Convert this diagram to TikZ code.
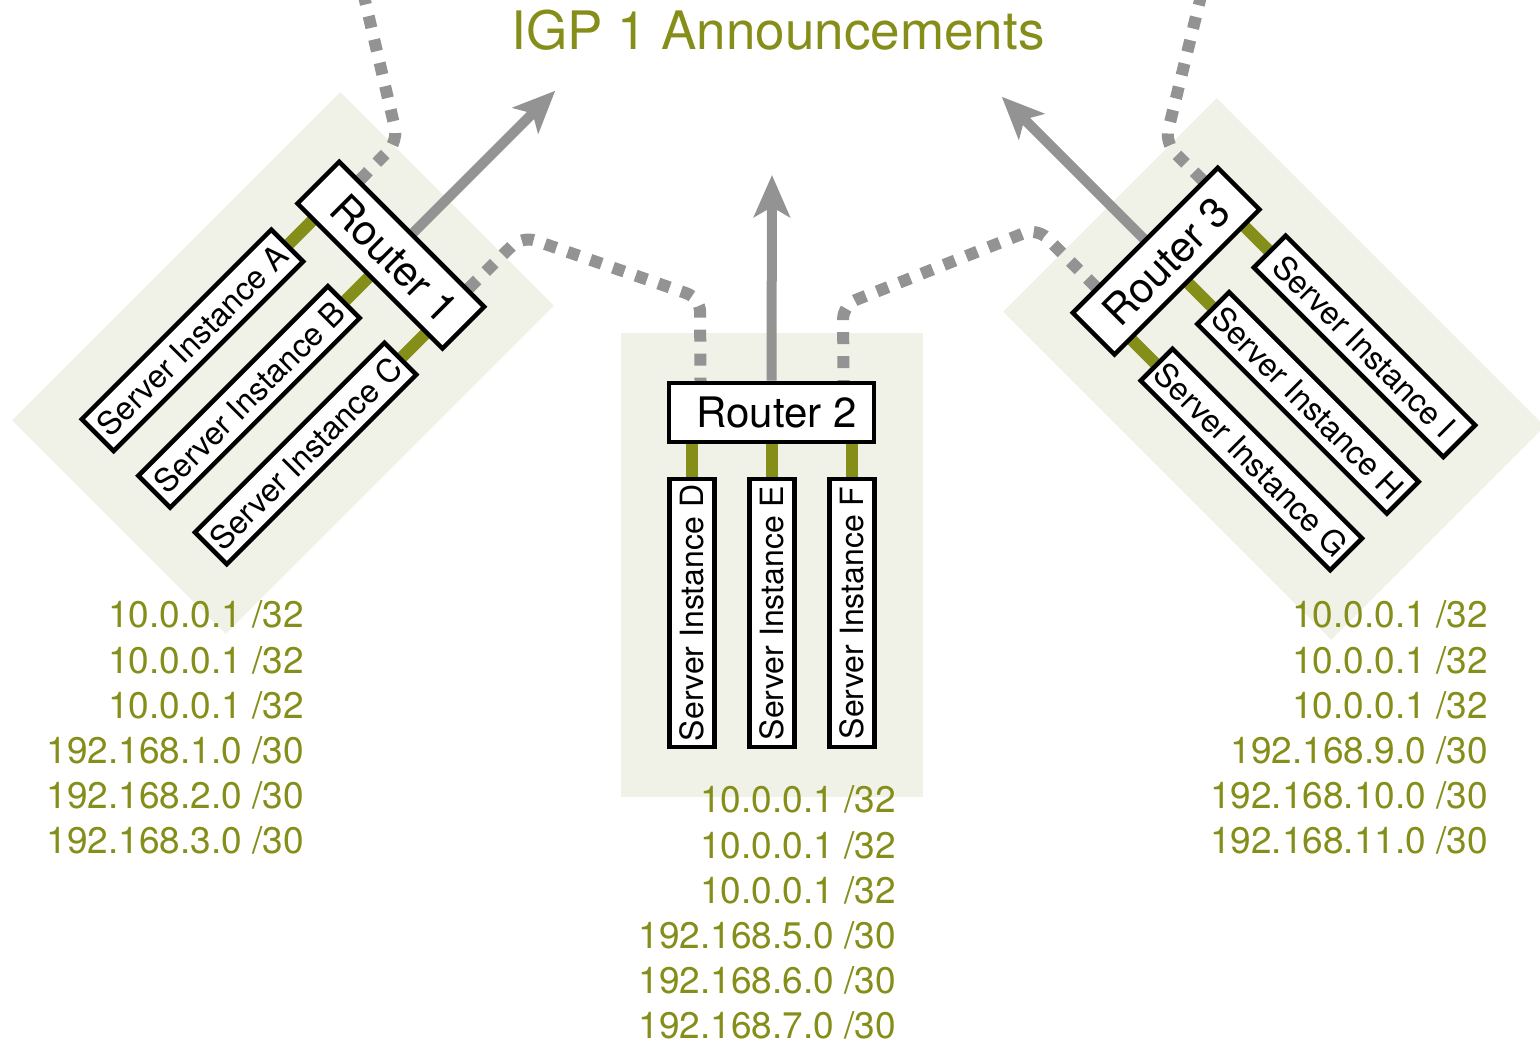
\documentclass[tikz,border=0pt]{standalone}
\usepackage{fontspec}
\setmainfont{TeX Gyre Heros}
\usetikzlibrary{arrows.meta}
\definecolor{olivec}{HTML}{868E1A}
\definecolor{bgc}{HTML}{F0F2E8}
\definecolor{grayc}{HTML}{939393}
\pgfdeclarelayer{back}
\pgfdeclarelayer{mid}
\pgfsetlayers{back,mid,main}
\begin{document}
\begin{tikzpicture}[x=1pt,y=1pt,
  grp/.style={fill=bgc},
  routerbox/.style={draw=black, fill=white, line width=4.5pt, minimum width=205pt, minimum height=59pt, inner sep=0pt, font=\fontsize{42}{50}\selectfont, transform shape},
  serverbox/.style={draw=black, fill=white, line width=4.5pt, minimum width=268pt, minimum height=45pt, inner sep=0pt, font=\fontsize{32}{38}\selectfont, transform shape},
  link/.style={draw=olivec, line width=12pt},
  annarrow/.style={draw=grayc, line width=10pt, -{Stealth[length=42pt,width=36pt,inset=10pt]}},
  peer/.style={draw=grayc, line width=12pt, dash pattern=on 12pt off 12pt, rounded corners=14pt},
  addr/.style={text=olivec, font=\fontsize{37}{45}\selectfont, anchor=base east, inner sep=0pt},
]
\useasboundingbox (0,0) rectangle (1540,1043);

% ---------- Group 2 (centre)
\begin{scope}[shift={(772,478)}]
  \begin{pgfonlayer}{back}\fill[grp] (-151,-232) rectangle (151,232);\end{pgfonlayer}
  \node[routerbox] (r2) at (-0.5,152.5) {\hspace{10pt}Router 2};
  \node[serverbox, rotate=90] (sD) at (-80,-48) {Server Instance D};
  \node[serverbox, rotate=90] (sE) at (0,-48) {Server Instance E};
  \node[serverbox, rotate=90] (sF) at (80,-48) {Server Instance F};
  \coordinate (r2a) at (-80,124);
  \coordinate (r2b) at (0,124);
  \coordinate (r2c) at (80,124);
  \coordinate (r2top) at (0,390);
  \coordinate (r2pl) at (-71.5,184);
  \coordinate (r2pr) at (71.5,184);
\end{scope}

% ---------- Group 1 (left)
\begin{scope}[shift={(283,680)}, rotate=-45]
  \begin{pgfonlayer}{back}\fill[grp] (-151,-232) rectangle (151,232);\end{pgfonlayer}
  \node[routerbox] (r1) at (0,152.5) {\hspace{10pt}Router 1};
  \node[serverbox, rotate=90] (sA) at (-80,-48) {Server Instance A};
  \node[serverbox, rotate=90] (sB) at (0,-48) {Server Instance B};
  \node[serverbox, rotate=90] (sC) at (80,-48) {Server Instance C};
  \coordinate (r1a) at (-80,124);
  \coordinate (r1b) at (0,124);
  \coordinate (r1c) at (80,124);
  \coordinate (r1top) at (0,385);
  \coordinate (r1p) at (78.5,184);
  \coordinate (r1t) at (-75,184);
\end{scope}

% ---------- Group 3 (right)
\begin{scope}[shift={(1274,674)}, rotate=45]
  \begin{pgfonlayer}{back}\fill[grp] (-151,-232) rectangle (151,232);\end{pgfonlayer}
  \node[routerbox] (r3) at (0,152.5) {Router 3\hspace{10pt}};
  \node[serverbox, rotate=-90] (sG) at (-80,-48) {Server Instance G};
  \node[serverbox, rotate=-90] (sH) at (0,-48) {Server Instance H};
  \node[serverbox, rotate=-90] (sI) at (80,-48) {Server Instance I};
  \coordinate (r3a) at (-80,124);
  \coordinate (r3b) at (0,124);
  \coordinate (r3c) at (80,124);
  \coordinate (r3top) at (0,385);
  \coordinate (r3p) at (-68,184);
  \coordinate (r3t) at (83,184);
\end{scope}

\coordinate (up1) at (363,1051);
\coordinate (up3) at (1202,1051);

\begin{pgfonlayer}{mid}
  % links router -> servers
  \draw[link] (sD.east) -- (r2a);
  \draw[link] (sE.east) -- (r2b);
  \draw[link] (sF.east) -- (r2c);
  \draw[link] (sA.east) -- (r1a);
  \draw[link] (sB.east) -- (r1b);
  \draw[link] (sC.east) -- (r1c);
  \draw[link] (sG.west) -- (r3a);
  \draw[link] (sH.west) -- (r3b);
  \draw[link] (sI.west) -- (r3c);
  % announcements
  \draw[annarrow] (r2.north) -- (r2top);
  \draw[annarrow] (r1.north) -- (r1top);
  \draw[annarrow] (r3.north) -- (r3top);
  % peerings
  \draw[peer] (r1p) -- (522,807) -- (700,745) -- (r2pl);
  \draw[peer] (r3p) -- (1037,815) -- (843,738) -- (r2pr);
  \draw[peer] (r1t) -- (398,902) -- (up1);
  \draw[peer] (r3t) -- (1165,900) -- (up3);
\end{pgfonlayer}

\node[text=olivec, font=\fontsize{53}{60}\selectfont, anchor=base, inner sep=0pt] (title) at (778,993) {IGP 1 Announcements};

\foreach \t [count=\i] in {10.0.0.1 /32,10.0.0.1 /32,10.0.0.1 /32,192.168.1.0 /30,192.168.2.0 /30,192.168.3.0 /30}
  \node[addr] (la\i) at (304,{1043-628-(\i-1)*45.2}) {\t};
\foreach \t [count=\i] in {10.0.0.1 /32,10.0.0.1 /32,10.0.0.1 /32,192.168.5.0 /30,192.168.6.0 /30,192.168.7.0 /30}
  \node[addr] (lb\i) at (896,{1043-813-(\i-1)*45.2}) {\t};
\foreach \t [count=\i] in {10.0.0.1 /32,10.0.0.1 /32,10.0.0.1 /32,192.168.9.0 /30,192.168.10.0 /30,192.168.11.0 /30}
  \node[addr] (lc\i) at (1488,{1043-628-(\i-1)*45.2}) {\t};
\end{tikzpicture}
\end{document}
